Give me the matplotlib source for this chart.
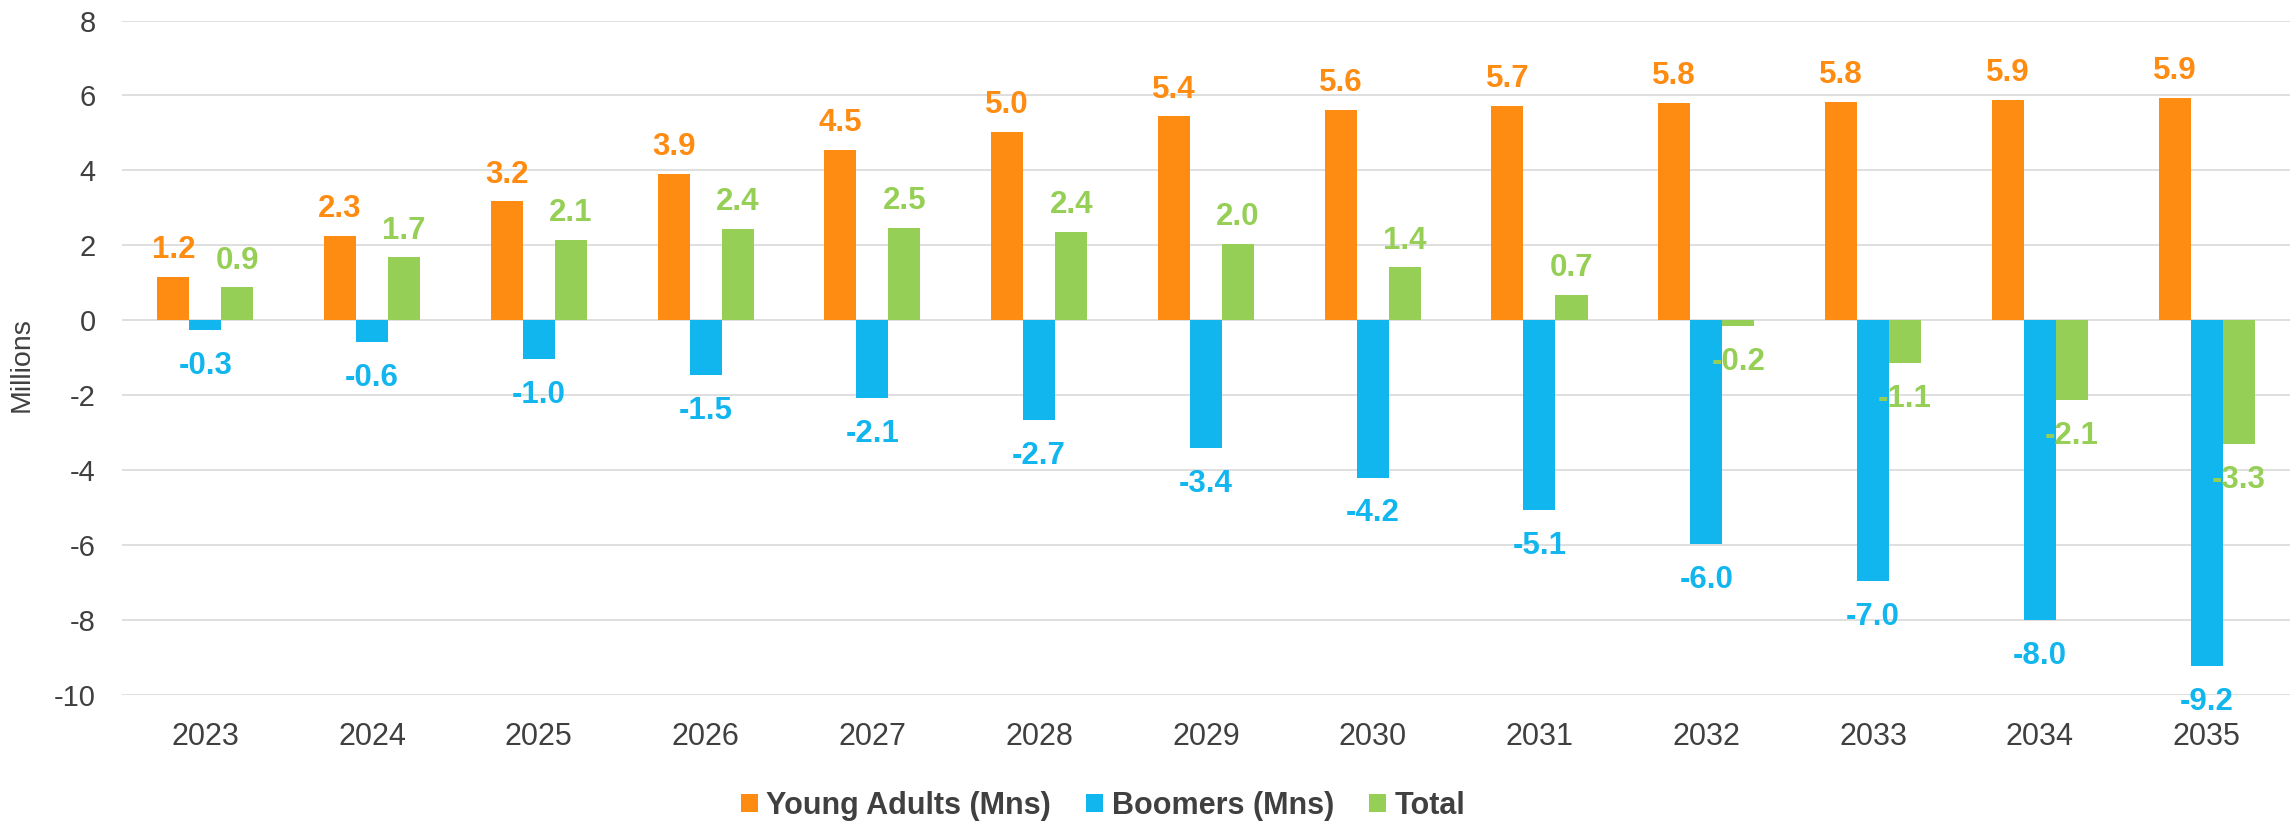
import numpy as np
import matplotlib.pyplot as plt

plt.rcParams['font.family'] = ['Liberation Sans', 'DejaVu Sans']
plt.rcParams['axes.unicode_minus'] = False

years = ['2023', '2024', '2025', '2026', '2027', '2028', '2029',
         '2030', '2031', '2032', '2033', '2034', '2035']
young = [1.16, 2.26, 3.17, 3.91, 4.54, 5.03, 5.44, 5.62, 5.73, 5.81, 5.82, 5.88, 5.93]
boomers = [-0.27, -0.58, -1.03, -1.46, -2.07, -2.67, -3.41, -4.2, -5.06, -5.97, -6.96, -8.01, -9.23]
total = [0.88, 1.68, 2.14, 2.44, 2.47, 2.36, 2.03, 1.41, 0.67, -0.16, -1.14, -2.13, -3.3]

names = ['Young Adults (Mns)', 'Boomers (Mns)', 'Total']
colors = ['#FF8C12', '#12B6EE', '#96CF55']
text_col = '#404040'

fig = plt.figure(figsize=[22.92, 8.24], dpi=100)
ax = fig.add_axes([0.0532, 0.1566, 0.9459, 0.8185])

x = np.arange(len(years))
w = 0.192
for i, (vals, name, c) in enumerate(zip([young, boomers, total], names, colors)):
    pos = x + (i - 1) * w
    ax.bar(pos, vals, width=w, color=c, label=name, zorder=3)
    for px, v in zip(pos, vals):
        if v >= 0:
            ax.annotate('%.1f' % v, (px, v), xytext=(0, 13.5), textcoords='offset points',
                        ha='center', va='baseline', fontsize=22.5, fontweight='bold',
                        color=c, zorder=4)
        else:
            ax.annotate('%.1f' % v, (px, v), xytext=(0, -15), textcoords='offset points',
                        ha='center', va='top', fontsize=22.5, fontweight='bold',
                        color=c, zorder=4)

ax.set_xlim(-0.5, len(years) - 0.5)
ax.set_ylim(-10, 8)
ax.set_yticks(range(-10, 9, 2))
ax.set_xticks(x)
ax.set_xticklabels(years)
ax.tick_params(axis='x', length=0, pad=19.5, labelsize=22, colors=text_col)
ax.tick_params(axis='y', length=0, pad=19, labelsize=21, colors=text_col)
ax.grid(axis='y', color='#D9D9D9', linewidth=1.2, zorder=0)
for s in ax.spines.values():
    s.set_visible(False)

ax.set_ylabel('Millions', fontsize=20.5, color=text_col)
ax.yaxis.set_label_coords(-0.0401, 0.49)

fig.legend(loc='center', bbox_to_anchor=(0.4813, 0.0218), ncol=3, frameon=False,
           handlelength=0.55, handleheight=0.55, handletextpad=0.28, columnspacing=1.15,
           prop={'size': 22, 'weight': 'bold'}, labelcolor=text_col)

fig.savefig('out.png', dpi=100)
